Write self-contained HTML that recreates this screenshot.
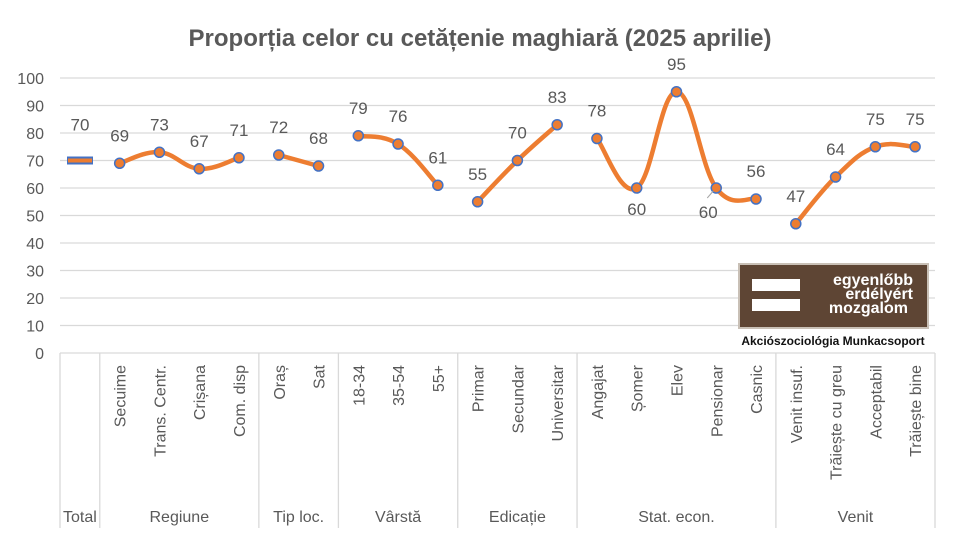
<!DOCTYPE html>
<html><head><meta charset="utf-8"><style>
body{margin:0;background:#fff;width:960px;height:540px;overflow:hidden}
svg{font-family:"Liberation Sans",sans-serif}
</style></head><body>
<svg id="s" width="960" height="540" xmlns="http://www.w3.org/2000/svg">
<text x="480" y="46" text-anchor="middle" font-size="24" font-weight="bold" fill="#595959">Proporția celor cu cetățenie maghiară (2025 aprilie)</text>
<g id="grid" stroke="#d9d9d9" stroke-width="1.3"></g>
<g id="yl" font-size="16" fill="#595959" text-anchor="end"></g>
<g id="sep" stroke="#d9d9d9" stroke-width="1.3"></g>
<g id="xl" font-size="16" fill="#595959"></g>
<g id="ser"></g>
<g id="dl" font-size="17" fill="#595959" text-anchor="middle"></g>
<rect x="739" y="264" width="189" height="64" fill="#5e4534" stroke="#c9c0b6" stroke-width="2"/>
<rect x="752" y="279" width="48" height="12" fill="#fff"/>
<rect x="752" y="299" width="48" height="12" fill="#fff"/>
<g font-family="Liberation Sans,sans-serif" font-size="16" fill="#fff" font-weight="bold" text-anchor="end">
<text x="913" y="285">egyenlőbb</text><text x="913" y="299">erdélyért</text><text x="908" y="313">mozgalom</text></g>
<text x="833" y="345" text-anchor="middle" font-size="12" font-weight="bold" fill="#111">Akciószociológia Munkacsoport</text>
</svg>
<script>
const NS="http://www.w3.org/2000/svg",L=60,R=935,W=(R-L)/22;
const Y=v=>353-2.75*v,X=i=>L+W*(i+0.5);
function el(p,t,a,txt){const e=document.createElementNS(NS,t);for(const k in a)e.setAttribute(k,a[k]);if(txt!=null)e.textContent=txt;document.getElementById(p).appendChild(e);return e;}
for(let v=0;v<=100;v+=10){el("grid","line",{x1:L,x2:R,y1:Y(v),y2:Y(v)});el("yl","text",{x:44,y:Y(v)+6},v);}
[0,1,5,7,10,13,18,22].forEach(i=>el("sep","line",{x1:L+W*i,x2:L+W*i,y1:353,y2:528}));
const names=["","Secuime","Trans. Centr.","Crișana","Com. disp","Oraș","Sat","18-34","35-54","55+","Primar","Secundar","Universitar","Angajat","Șomer","Elev","Pensionar","Casnic","Venit insuf.","Trăiește cu greu","Acceptabil","Trăiește bine"];
names.forEach((n,i)=>{if(n)el("xl","text",{transform:`translate(${X(i)+6},365) rotate(-90)`,"text-anchor":"end"},n)});
[["Total",0,1],["Regiune",1,5],["Tip loc.",5,7],["Vârstă",7,10],["Edicație",10,13],["Stat. econ.",13,18],["Venit",18,22]].forEach(([n,a,b])=>el("xl","text",{x:(L+W*a+L+W*b)/2,y:522,"text-anchor":"middle"},n));
const groups=[[1,[69,73,67,71]],[5,[72,68]],[7,[79,76,61]],[10,[55,70,83]],[13,[78,60,95,60,56]],[18,[47,64,75,75]]];
el("ser","line",{x1:67,x2:93,y1:Y(70),y2:Y(70),stroke:"#4472c4","stroke-width":8});
el("ser","line",{x1:68,x2:92,y1:Y(70),y2:Y(70),stroke:"#ed7d31","stroke-width":4});
el("dl","text",{x:80,y:Y(70)-30},70);
groups.forEach(([s,vs])=>{const p=vs.map((v,j)=>[X(s+j),Y(v)]);let d=`M${p[0]}`;
for(let j=0;j<p.length-1;j++){const p0=p[j-1]||p[j],p1=p[j],p2=p[j+1],p3=p[j+2]||p2,t=1/5;
d+=` C${p1[0]+(p2[0]-p0[0])*t},${p1[1]+(p2[1]-p0[1])*t} ${p2[0]-(p3[0]-p1[0])*t},${p2[1]-(p3[1]-p1[1])*t} ${p2[0]},${p2[1]}`;}
el("ser","path",{d,fill:"none",stroke:"#ed7d31","stroke-width":4.5,"stroke-linecap":"round"});
p.forEach((q,j)=>{el("ser","circle",{cx:q[0],cy:q[1],r:5,fill:"#ed7d31",stroke:"#4472c4","stroke-width":1.5});
let ly=q[1]-22,lx=q[0];
if(s+j==14){ly=q[1]+27;}
if(s+j==16){ly=q[1]+30;lx=q[0]-8;el("ser","line",{x1:q[0]-3,y1:q[1]+3,x2:q[0]-9,y2:q[1]+10,stroke:"#a6a6a6"});}
el("dl","text",{x:lx,y:ly},vs[j]);});});
</script>
</body></html>
